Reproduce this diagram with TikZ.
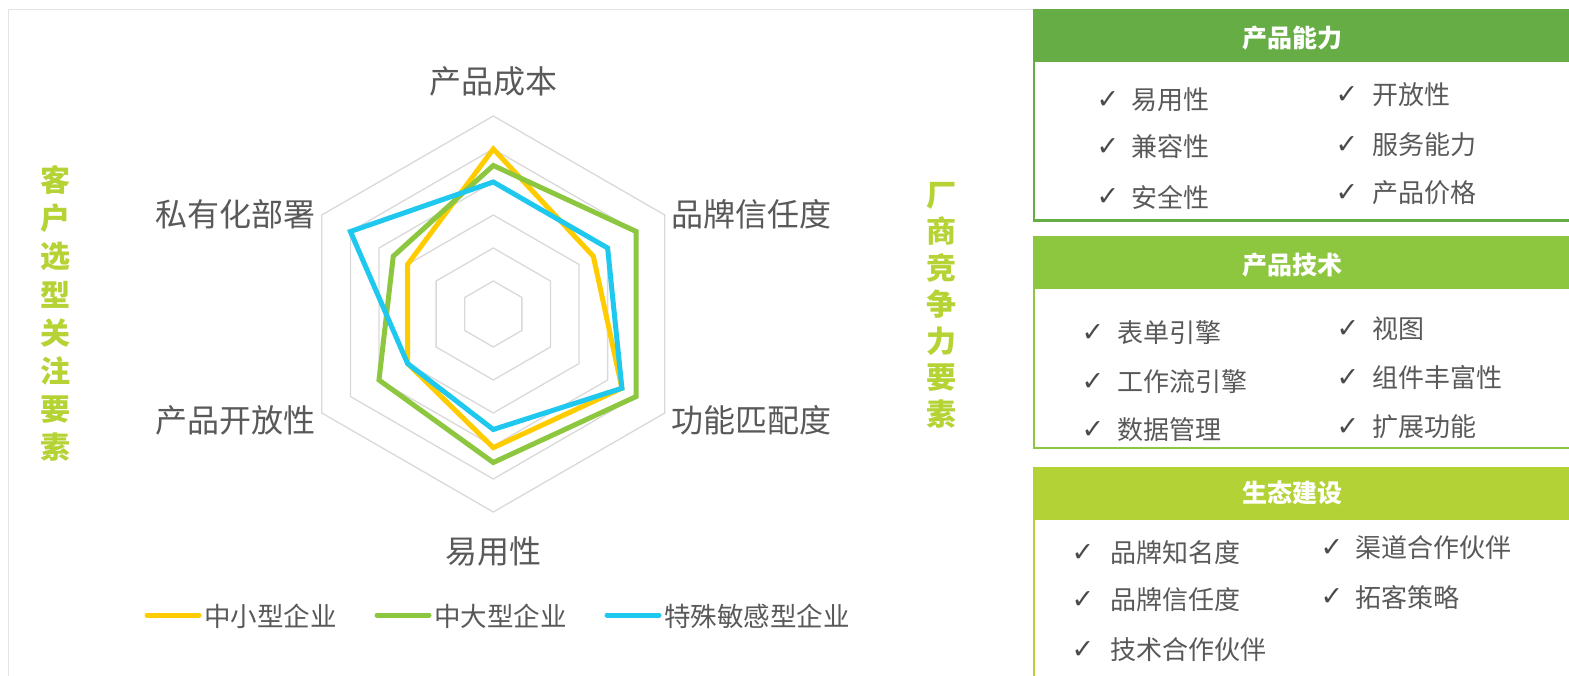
\documentclass[tikz,border=0pt]{standalone}
\usepackage{fontspec}
\setmainfont{Noto Sans CJK SC}
\newfontfamily\checkfont{DejaVu Sans}
\definecolor{txt}{HTML}{595959}
\definecolor{chkc}{HTML}{4A4A4A}
\definecolor{gridc}{HTML}{D9D9D9}
\definecolor{syellow}{HTML}{FFCC00}
\definecolor{sgreen}{HTML}{8DC63F}
\definecolor{sblue}{HTML}{1FC8EF}
\definecolor{pgA}{HTML}{67AD45}
\definecolor{pgB}{HTML}{8DC63F}
\definecolor{pgC}{HTML}{B2D235}
\definecolor{vtxt}{HTML}{B5D334}
\definecolor{framec}{HTML}{E3E3E3}
\begin{document}
\begin{tikzpicture}[x=1pt,y=-1pt,
  every node/.style={inner sep=0pt, outer sep=0pt, text=txt},
  axlab/.style={font=\fontsize{32}{36}\selectfont},
  leglab/.style={anchor=west, font=\fontsize{26.5}{30}\selectfont},
  legline/.style={line width=5pt, line cap=round},
  series/.style={line width=5pt, line join=miter},
  gridline/.style={gridc, line width=1.3pt},
  vlab/.style={text=vtxt, align=center, font=\fontsize{30}{#1}\selectfont\bfseries},
  head/.style={text=white, font=\fontsize{25}{30}\selectfont\bfseries},
  chk/.style={text=chkc, font=\checkfont\fontsize{27}{30}\selectfont},
  item/.style={anchor=west, font=\fontsize{26}{30}\selectfont},
]
\useasboundingbox (0,0) rectangle (1569,676);
\fill[white] (0,0) rectangle (1569,676);
% outer frame
\draw[framec, line width=1.5pt] (8.5,677) -- (8.5,9.5) -- (1033,9.5);

% radar chart
\begin{scope}[shift={(493.3,314)}]
  \foreach \k in {1,...,6}
    \draw[gridline] (0,{-33*\k}) -- ({33*\k*sin(60)},{-33*\k*cos(60)})
      -- ({33*\k*sin(120)},{-33*\k*cos(120)}) -- (0,{33*\k})
      -- ({33*\k*sin(240)},{-33*\k*cos(240)}) -- ({33*\k*sin(300)},{-33*\k*cos(300)}) -- cycle;
  \foreach \v [count=\i from 0] in {5,3.5,4.5,4.05,3,3}
    \coordinate (ya\i) at ({33*\v*sin(60*\i)},{-33*\v*cos(60*\i)});
  \foreach \v [count=\i from 0] in {4.5,5,5,4.5,4,3.5}
    \coordinate (gr\i) at ({33*\v*sin(60*\i)},{-33*\v*cos(60*\i)});
  \foreach \v [count=\i from 0] in {4,4,4.5,3.5,3,5}
    \coordinate (bl\i) at ({33*\v*sin(60*\i)},{-33*\v*cos(60*\i)});
  \draw[series, syellow] (ya0) -- (ya1) -- (ya2) -- (ya3) -- (ya4) -- (ya5) -- cycle;
  \draw[series, sgreen] (gr0) -- (gr1) -- (gr2) -- (gr3) -- (gr4) -- (gr5) -- cycle;
  \draw[series, sblue] (bl0) -- (bl1) -- (bl2) -- (bl3) -- (bl4) -- (bl5) -- cycle;
\end{scope}

% axis labels
\node[axlab] (ax0) at (493,81) {产品成本};
\node[axlab, anchor=west] (ax1) at (671,214) {品牌信任度};
\node[axlab, anchor=west] (ax2) at (671,420) {功能匹配度};
\node[axlab] (ax3) at (493,551) {易用性};
\node[axlab, anchor=east] (ax4) at (315,420) {产品开放性};
\node[axlab, anchor=east] (ax5) at (315,214) {私有化部署};

% legend
\coordinate (lya) at (147,615); \coordinate (lyb) at (199,615);
\coordinate (lga) at (377,615); \coordinate (lgb) at (429,615);
\coordinate (lba) at (607,615); \coordinate (lbb) at (659,615);
\draw[legline, syellow] (lya) -- (lyb);
\draw[legline, sgreen] (lga) -- (lgb);
\draw[legline, sblue] (lba) -- (lbb);
\node[leglab] (lg1) at (204,616) {中小型企业};
\node[leglab] (lg2) at (434,616) {中大型企业};
\node[leglab] (lg3) at (664,616) {特殊敏感型企业};

% vertical titles
\node[vlab=38.1] (vl) at (55,313.5) {客\\户\\选\\型\\关\\注\\要\\素};
\node[vlab=36.5] (vr) at (941,305) {厂\\商\\竞\\争\\力\\要\\素};

% right panels
\fill[pgA] (1033,9) rectangle (1569,62);
\draw[pgA, line width=2.5pt] (1034.2,62) -- (1034.2,220.5) -- (1570,220.5);
\fill[pgB] (1033,236) rectangle (1569,289.5);
\draw[pgB, line width=2.5pt] (1034.2,289) -- (1034.2,448) -- (1570,448);
\fill[pgC] (1033,466.5) rectangle (1569,519.5);
\draw[pgC, line width=2.5pt] (1034.2,519) -- (1034.2,677);

\node[head] (h1) at (1292,38) {产品能力};
\node[head] (h2) at (1292,265) {产品技术};
\node[head] (h3) at (1292,493) {生态建设};

\foreach \cx/\tx/\yy/\t [count=\n] in {
  1108/1131/100/易用性, 1108/1131/147/兼容性, 1108/1131/197/安全性,
  1347/1372/95/开放性, 1347/1372/145/服务能力, 1347/1372/193/产品价格,
  1093/1117/333/表单引擎, 1093/1117/382/工作流引擎, 1093/1117/430/数据管理,
  1348/1372/329/视图, 1348/1372/378/组件丰富性, 1348/1372/427/扩展功能,
  1083/1110/553/品牌知名度, 1083/1110/600/品牌信任度, 1083/1110/650/技术合作伙伴,
  1332/1355/548/渠道合作伙伴, 1332/1355/597/拓客策略}
{
  \node[chk] (c\n) at (\cx,\yy) {✓};
  \node[item] (t\n) at (\tx,\yy) {\t};
}
\end{tikzpicture}
\end{document}
